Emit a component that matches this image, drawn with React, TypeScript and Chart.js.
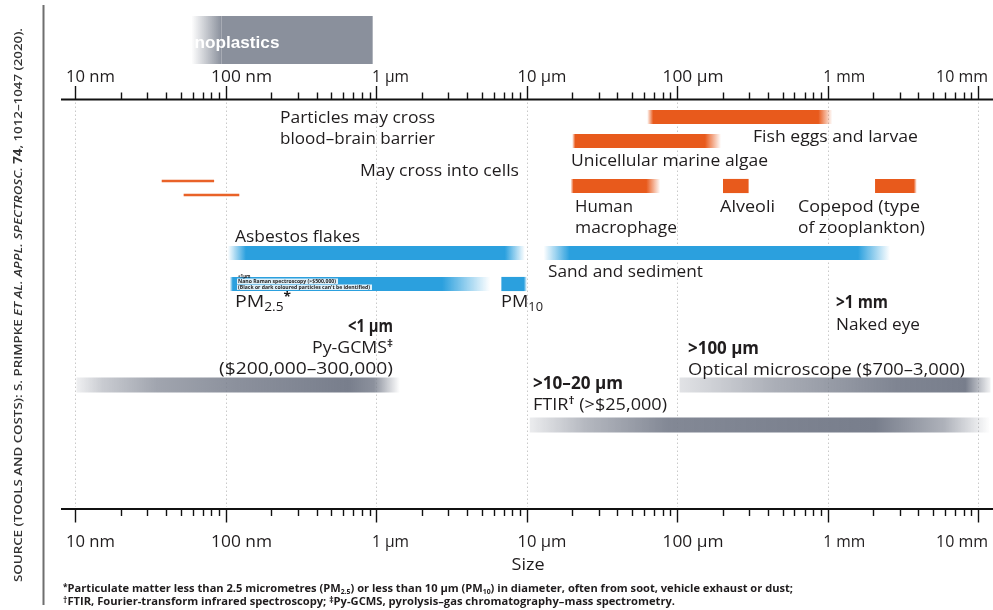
import React, { useEffect, useRef } from 'react';
import { Chart, registerables } from 'chart.js';

Chart.register(...registerables);

// ---------------- data (sizes in nanometres) ----------------
const axisTickValues = [10, 100, 1000, 10000, 100000, 1000000, 10000000];
const axisTickLabels = ['10 nm', '100 nm', '1 µm', '10 µm', '100 µm', '1 mm', '10 mm'];
const minorMultipliers = [2, 3, 4, 5, 6, 7, 8, 9];

const nanoplasticsRange = [59, 944];

const organismNames = ['Fish eggs and larvae', 'Unicellular marine algae', 'Human macrophage', 'Alveoli', 'Copepod (type of zooplankton)'];
const organismFrom = [63000, 20000, 19500, 202000, 2070000];
const organismTo = [1070000, 195000, 77000, 296000, 3900000];

const barrierNames = ['Particles may cross blood–brain barrier', 'May cross into cells'];
const barrierFrom = [37.6, 52.6];
const barrierTo = [83, 122];

const particleNames = ['Asbestos flakes', 'Sand and sediment', 'PM2.5', 'PM10'];
const particleFrom = [103, 12900, 106, 6800];
const particleTo = [9700, 2590000, 5700, 10000];

const methodNames = ['Py-GCMS', 'Optical microscope', 'FTIR'];
const methodFrom = [10.2, 104000, 10500];
const methodTo = [1430, 12000000, 12000000];

// ---------------- layout & style (not data) ----------------
// row position = pixel offset below the top axis line
const organismRow = [18, 42, 87, 87, 87];
const barrierRow = [82, 96];
const particleRow = [154, 154, 185, 185];
const methodRow = [286, 286, 326];

const ORANGE = [232, 90, 28];
const BLUE = [43, 160, 222];
const GRAY = [120, 126, 140];
const INK = '#1f1c1d';
const FONT = '"Open Sans", "DejaVu Sans", sans-serif';

const organismFade = [[6, 14], [3, 16], [3, 14], [0, 0], [0, 3]];
const particleFade = [[18, 20], [26, 32], [3, 48], [0, 3]];
const methodStops = [
  [[0, 0.12], [0.08, 0.4], [0.25, 0.7], [0.5, 0.86], [0.84, 1], [0.92, 0.85], [1, 0]],
  [[0, 0.22], [0.3, 0.62], [0.7, 0.95], [0.92, 1], [1, 0.1]],
  [[0, 0.15], [0.12, 0.55], [0.3, 0.92], [0.75, 1], [0.9, 0.6], [1, 0]],
];

const rgba = (c: number[], a: number) => `rgba(${c[0]},${c[1]},${c[2]},${a})`;

function barPixels(ctx: any) {
  const chart = ctx.chart;
  const xs = chart.scales && chart.scales.x;
  const raw = ctx.raw;
  if (!xs || !raw || !chart.chartArea) return null;
  return [xs.getPixelForValue(raw.x[0]), xs.getPixelForValue(raw.x[1])];
}

function fadeFill(color: number[], fades: number[][]) {
  return (ctx: any) => {
    const px = barPixels(ctx);
    if (!px) return rgba(color, 1);
    const [x0, x1] = px;
    const w = Math.max(1, x1 - x0);
    const [fl, fr] = fades[ctx.dataIndex] || [0, 0];
    const g = ctx.chart.ctx.createLinearGradient(x0, 0, x1, 0);
    const a = Math.min(0.49, fl / w);
    const b = Math.min(0.49, fr / w);
    g.addColorStop(0, rgba(color, fl > 0 ? 0 : 1));
    g.addColorStop(a, rgba(color, 1));
    g.addColorStop(1 - b, rgba(color, 1));
    g.addColorStop(1, rgba(color, fr > 0 ? 0 : 1));
    return g;
  };
}

function stopFill(color: number[], stops: number[][][]) {
  return (ctx: any) => {
    const px = barPixels(ctx);
    if (!px) return rgba(color, 1);
    const g = ctx.chart.ctx.createLinearGradient(px[0], 0, px[1], 0);
    (stops[ctx.dataIndex] || [[0, 1], [1, 1]]).forEach(([p, a]) => g.addColorStop(p, rgba(color, a)));
    return g;
  };
}

type Seg = { t: string; size?: number; weight?: string; italic?: boolean; dy?: number; color?: string };

function segFont(s: Seg, base: number, weight: string, family: string) {
  return `${s.italic ? 'italic ' : ''}${s.weight || weight} ${s.size || base}px ${family}`;
}

function richWidth(c: CanvasRenderingContext2D, segs: Seg[], base: number, weight: string, family: string) {
  let w = 0;
  for (const s of segs) {
    c.font = segFont(s, base, weight, family);
    w += c.measureText(s.t).width;
  }
  return w;
}

function drawRich(
  c: CanvasRenderingContext2D,
  segs: Seg[],
  x: number,
  y: number,
  opts: { align?: 'left' | 'right' | 'center'; size?: number; weight?: string; family?: string; color?: string; fitWidth?: number }
) {
  const base = opts.size || 16;
  const weight = opts.weight || '500';
  const family = opts.family || FONT;
  const natural = richWidth(c, segs, base, weight, family);
  const sx = opts.fitWidth ? opts.fitWidth / natural : 1;
  const w = natural * sx;
  let left = x;
  if (opts.align === 'right') left = x - w;
  else if (opts.align === 'center') left = x - w / 2;
  c.save();
  c.translate(left, y);
  c.scale(sx, 1);
  c.textBaseline = 'alphabetic';
  c.textAlign = 'left';
  let cx = 0;
  for (const s of segs) {
    c.font = segFont(s, base, weight, family);
    c.fillStyle = s.color || opts.color || INK;
    c.fillText(s.t, cx, s.dy || 0);
    cx += c.measureText(s.t).width;
  }
  c.restore();
  return w;
}

const TOP_AXIS_Y = 99.5;
const BOTTOM_AXIS_Y = 509;
// widths of the tick labels as printed
const tickLabelWidths = [49, 61, 37, 49, 61, 42, 52];

const decorPlugin = {
  id: 'decor',
  beforeDatasetsDraw(chart: any) {
    const c: CanvasRenderingContext2D = chart.ctx;
    const xs = chart.scales.x;
    c.save();
    c.strokeStyle = '#c9c9c9';
    c.lineWidth = 1;
    c.setLineDash([1.5, 2.5]);
    for (const v of axisTickValues) {
      const x = Math.round(xs.getPixelForValue(v)) + 0.5;
      c.beginPath();
      c.moveTo(x, TOP_AXIS_Y + 3);
      c.lineTo(x, BOTTOM_AXIS_Y - 2);
      c.stroke();
    }
    c.restore();
  },
  afterDraw(chart: any) {
    const c: CanvasRenderingContext2D = chart.ctx;
    const xs = chart.scales.x;
    const area = chart.chartArea;
    c.save();

    // ---- nanoplastics box above the scale
    const n0 = xs.getPixelForValue(nanoplasticsRange[0]);
    const n1 = xs.getPixelForValue(nanoplasticsRange[1]);
    const ng = c.createLinearGradient(n0, 0, n0 + 30, 0);
    ng.addColorStop(0, 'rgba(138,144,156,0)');
    ng.addColorStop(1, 'rgba(138,144,156,1)');
    c.fillStyle = ng;
    c.fillRect(n0, 16, 30, 48);
    c.fillStyle = 'rgb(138,144,156)';
    c.fillRect(n0 + 30, 16, n1 - n0 - 30, 48);
    drawRich(c, [{ t: 'noplastics' }], n0 + 3, 48, { size: 17, weight: '700', family: '"Liberation Sans", Arial, sans-serif', color: '#ffffff', fitWidth: 85 });

    // ---- axis lines
    c.strokeStyle = '#111';
    c.lineWidth = 2.2;
    c.setLineDash([]);
    for (const y of [TOP_AXIS_Y, BOTTOM_AXIS_Y]) {
      c.beginPath();
      c.moveTo(area.left, y);
      c.lineTo(area.right, y);
      c.stroke();
    }
    // ---- ticks
    c.lineWidth = 1.4;
    const tick = (v: number, len: number) => {
      const x = Math.round(xs.getPixelForValue(v)) + 0.5;
      c.beginPath();
      c.moveTo(x, TOP_AXIS_Y);
      c.lineTo(x, TOP_AXIS_Y - len);
      c.moveTo(x, BOTTOM_AXIS_Y);
      c.lineTo(x, BOTTOM_AXIS_Y + len);
      c.stroke();
    };
    axisTickValues.forEach((v) => tick(v, 13.5));
    axisTickValues.slice(0, -1).forEach((v) => minorMultipliers.forEach((m) => tick(v * m, 7)));

    // ---- tick labels (number centred on tick)
    axisTickLabels.forEach((lab, i) => {
      const x = xs.getPixelForValue(axisTickValues[i]);
      const num = lab.split(' ')[0];
      c.font = `500 17px ${FONT}`;
      const sx = tickLabelWidths[i] / c.measureText(lab).width;
      const nw = c.measureText(num).width * sx;
      const fw = tickLabelWidths[i];
      let left = x - nw / 2;
      if (left + fw > 988) left = 988 - fw;
      for (const y of [81.5, 546.5]) drawRich(c, [{ t: lab }], left, y, { size: 17, fitWidth: fw });
    });
    drawRich(c, [{ t: 'Size' }], 511.5, 570, { size: 17, fitWidth: 33 });

    // ---- annotations
    const L = (segs: Seg[] | string, x: number, y: number, w: number, o: any = {}) =>
      drawRich(c, typeof segs === 'string' ? [{ t: segs }] : segs, x, y, { size: 17, fitWidth: w, ...o });

    L('Particles may cross', 280, 123, 155);
    L('blood–brain barrier', 280, 144, 155);
    L('May cross into cells', 360, 176, 159);
    L('Fish eggs and larvae', 753, 142, 165);
    L('Unicellular marine algae', 571, 166, 197);
    L('Human', 575, 212, 58);
    L('macrophage', 575, 233, 102);
    L('Alveoli', 720, 212, 55);
    L('Copepod (type', 798, 212, 122);
    L('of zooplankton)', 798, 233, 127);
    L('Asbestos flakes', 235, 242, 125);
    L('Sand and sediment', 548, 277, 155);

    L([{ t: 'PM' }, { t: '2.5', size: 12, dy: 4 }, { t: '*', size: 12, dy: -6, weight: '700' }], 235, 307, 56);
    L([{ t: 'PM' }, { t: '10', size: 12, dy: 4 }], 501, 307, 42);

    L('<1 µm', 393, 332, 45, { align: 'right', weight: '700' });
    L([{ t: 'Py-GCMS' }, { t: '‡', size: 11, dy: -6, weight: '700' }], 393, 353, 81, { align: 'right' });
    L('($200,000–300,000)', 393, 374, 174, { align: 'right' });

    L('>1 mm', 836, 308, 52, { weight: '700' });
    L('Naked eye', 836, 330, 84);
    L('>100 µm', 688, 354, 71, { weight: '700' });
    L('Optical microscope ($700–3,000)', 688, 375, 277);
    L('>10–20 µm', 533, 389, 90, { weight: '700' });
    L([{ t: 'FTIR' }, { t: '†', size: 11, dy: -6, weight: '700' }, { t: ' (>$25,000)' }], 533, 410, 134);

    // tiny overlay note on the PM2.5 bar
    c.fillStyle = 'rgba(255,255,255,0.85)';
    c.fillRect(237, 278.5, 101, 5.5);
    c.fillRect(237, 284.5, 135, 5.5);
    drawRich(c, [{ t: '<1μm' }], 238, 277.5, { size: 4.5, weight: '700' });
    drawRich(c, [{ t: 'Nano Raman spectroscopy (>$500,000)' }], 238, 283, { size: 4.5, weight: '700', fitWidth: 98 });
    drawRich(c, [{ t: "(Black or dark coloured particles can't be identified)" }], 238, 289, { size: 4.5, weight: '700', fitWidth: 132 });

    // ---- footnotes
    const fnFam = '"Open Sans", sans-serif';
    drawRich(
      c,
      [
        { t: '*', size: 8, dy: -2 },
        { t: 'Particulate matter less than 2.5 micrometres (PM' },
        { t: '2.5', size: 6.5, dy: 2 },
        { t: ') or less than 10 µm (PM' },
        { t: '10', size: 6.5, dy: 2 },
        { t: ') in diameter, often from soot, vehicle exhaust or dust;' },
      ],
      63, 591.5, { size: 10.5, weight: '700', family: fnFam, fitWidth: 730 }
    );
    drawRich(
      c,
      [
        { t: '†', size: 8, dy: -2 },
        { t: 'FTIR, Fourier-transform infrared spectroscopy; ' },
        { t: '‡', size: 8, dy: -2 },
        { t: 'Py-GCMS, pyrolysis–gas chromatography–mass spectrometry.' },
      ],
      63, 605, { size: 10.5, weight: '700', family: fnFam, fitWidth: 612 }
    );

    // ---- source credit and rule on the left
    c.strokeStyle = '#6f6f6f';
    c.lineWidth = 2;
    c.beginPath();
    c.moveTo(43.5, 5);
    c.lineTo(43.5, 605);
    c.stroke();
    c.save();
    c.translate(21.5, 305);
    c.rotate(-Math.PI / 2);
    drawRich(
      c,
      [
        { t: 'SOURCE (TOOLS AND COSTS): S. PRIMPKE ' },
        { t: 'ET AL. APPL. SPECTROSC.', italic: true },
        { t: ' 74', weight: '700' },
        { t: ', 1012–1047 (2020).' },
      ],
      0, 0, { align: 'center', size: 11.5, weight: '600', family: fnFam, color: '#333333', fitWidth: 554 }
    );
    c.restore();

    c.restore();
  },
};

function pts(from: number[], to: number[], rows: number[]) {
  return from.map((f, i) => ({ x: [f, to[i]], y: rows[i] }));
}

export default function App() {
  const ref = useRef<HTMLCanvasElement | null>(null);
  useEffect(() => {
    if (!ref.current) return;
    const chart = new Chart(ref.current, {
      type: 'bar',
      data: {
        datasets: [
          {
            label: 'Organisms',
            data: pts(organismFrom, organismTo, organismRow) as any,
            backgroundColor: fadeFill(ORANGE, organismFade) as any,
            barThickness: 13.5,
          },
          {
            label: 'Barriers',
            data: pts(barrierFrom, barrierTo, barrierRow) as any,
            backgroundColor: rgba(ORANGE, 0.95),
            barThickness: 2,
          },
          {
            label: 'Particles',
            data: pts(particleFrom, particleTo, particleRow) as any,
            backgroundColor: fadeFill(BLUE, particleFade) as any,
            barThickness: 13.5,
          },
          {
            label: 'Methods',
            data: pts(methodFrom, methodTo, methodRow) as any,
            backgroundColor: stopFill(GRAY, methodStops) as any,
            barThickness: 14.5,
          },
        ],
      },
      options: {
        indexAxis: 'y',
        responsive: false,
        animation: false,
        events: [],
        layout: { padding: { left: 61, right: 0, top: 99, bottom: 101 } },
        datasets: { bar: { grouped: false, borderWidth: 0, borderRadius: 0 } } as any,
        plugins: { legend: { display: false }, tooltip: { enabled: false }, title: { display: false } },
        scales: {
          x: {
            type: 'logarithmic',
            min: Math.pow(10, 0.90364),
            max: Math.pow(10, 7.0977),
            offset: false,
            display: false,
          },
          y: { type: 'linear', min: 0, max: 410, reverse: true, offset: false, display: false },
        },
      },
      plugins: [decorPlugin],
    });
    return () => chart.destroy();
  }, []);
  return (
    <div style={{ position: 'absolute', left: 0, top: 0, width: 993, height: 610, background: '#fff' }}>
      <canvas ref={ref} width={993} height={610} style={{ width: 993, height: 610, display: 'block' }} />
    </div>
  );
}
